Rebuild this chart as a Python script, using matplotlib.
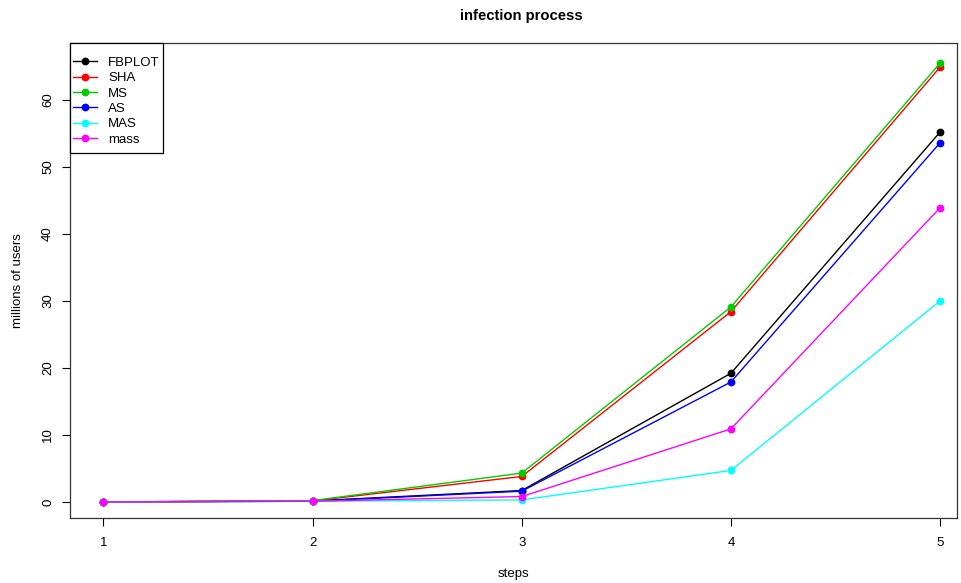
import matplotlib
matplotlib.use("Agg")
import matplotlib.pyplot as plt
from matplotlib.patches import Rectangle

plt.rcParams['font.family'] = ['Liberation Sans', 'DejaVu Sans']

steps = [1, 2, 3, 4, 5]
series_names = ["FBPLOT", "SHA", "MS", "AS", "MAS", "mass"]
colors = ["black", "#FF0000", "#00CD00", "#0000FF", "#00FFFF", "#FF00FF"]
fbplot = [0.0, 0.15, 1.7, 19.2, 55.2]
sha = [0.0, 0.15, 3.8, 28.4, 64.9]
ms = [0.0, 0.2, 4.3, 29.1, 65.5]
as_ = [0.0, 0.1, 1.6, 17.9, 53.6]
mas = [0.0, 0.1, 0.3, 4.7, 30.0]
mass = [0.0, 0.1, 0.8, 10.9, 43.9]
values = [fbplot, sha, ms, as_, mas, mass]

W, H = 962, 583
fig = plt.figure(figsize=(W/100, H/100), dpi=100)
ax = fig.add_axes([70/W, (H-518)/H, (957-70)/W, (518-43)/H])

for name, col, vals in zip(series_names, colors, values):
    ax.plot(steps, vals, color=col, lw=1, marker='o', ms=4.6, label=name, zorder=2)

ax.set_xlim(0.84, 5.081)
ax.set_ylim(-2.4, 68.5)
ax.set_xticks(steps)
ax.set_yticks([0, 10, 20, 30, 40, 50, 60])
ax.tick_params(axis='both', direction='out', length=5.5, width=0.8, labelsize=9.5)
ax.tick_params(axis='x', pad=8)
ax.tick_params(axis='y', pad=6)
for lab in ax.get_yticklabels():
    lab.set_rotation(90)
    lab.set_va('center')
for sp in ax.spines.values():
    sp.set_linewidth(0.9)
    sp.set_color('#333333')

ax.set_xlabel("steps", fontsize=9.5, labelpad=14)
ax.set_ylabel("millions of users", fontsize=9.5, labelpad=13)
fig.text(521/W, 1 - 16/H, "infection process",
         ha='center', va='center', fontsize=10.7, fontweight='bold')

# legend box
frame = Rectangle((70/W, 1 - 153/H), (163-70)/W, (153-43)/H, transform=fig.transFigure,
                  facecolor='white', edgecolor='black', lw=0.9, zorder=4)
fig.patches.append(frame)

leg = fig.legend(loc='upper left', bbox_to_anchor=(73/W, 1 - 56.5/H), borderaxespad=0,
                 fontsize=9.5, frameon=False, handlelength=1.8,
                 labelspacing=0.24, handletextpad=0.85, borderpad=0)
leg.set_zorder(5)

fig.savefig("out.png", dpi=100)
